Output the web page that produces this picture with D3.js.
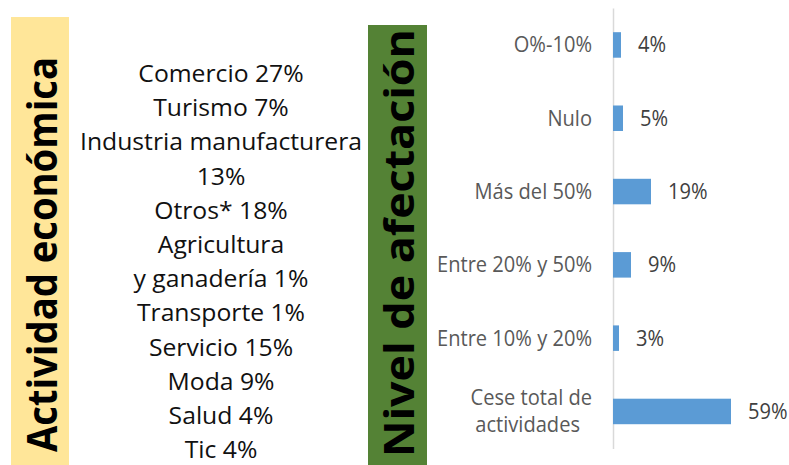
<!DOCTYPE html>
<html>
<head>
<meta charset="utf-8">
<script src="https://cdn.jsdelivr.net/npm/d3@7/dist/d3.min.js"></script>
<style>
  body { margin: 0; background: #fff; }
  svg { display: block; }
</style>
</head>
<body>
<div id="chart"></div>
<script>
// datos del grafico
let actividades = ["Comercio", "Turismo", "Industria manufacturera\n", "Otros*", "Agricultura\ny ganadería",
  "Transporte", "Servicio", "Moda", "Salud", "Tic"];
let actividadPct = [27, 7, 13, 18, 1, 1, 15, 9, 4, 4];

let niveles = ["O%-10%", "Nulo", "Más del 50%", "Entre 20% y 50%", "Entre 10% y 20%", "Cese total de\nactividades"];
let nivelPct = [4, 5, 19, 9, 3, 59];

let svgWidth = 789, svgHeight = 465;
let font = "'Open Sans', 'Noto Sans', sans-serif";

let svg = d3.select("#chart")
  .append("svg")
  .attr("width", svgWidth)
  .attr("height", svgHeight);

// squeeze text horizontally so the widest one gets the target width (calibri is narrower)
function squeeze(sel, widest, target) {
  let factor = target / widest;
  sel.each(function () {
    let w = this.getComputedTextLength();
    d3.select(this).attr("textLength", w * factor).attr("lengthAdjust", "spacingAndGlyphs");
  });
}

// ===== bandas con titulos verticales =====
svg.append("rect").attr("x", 11).attr("y", 17).attr("width", 58).attr("height", 448).attr("fill", "#ffe699");
svg.append("rect").attr("x", 368).attr("y", 25).attr("width", 59).attr("height", 440).attr("fill", "#548235");

svg.append("text")
  .attr("transform", "translate(57,452) rotate(-90)")
  .attr("font-family", font).attr("font-weight", "bold").attr("font-size", 41)
  .attr("fill", "#000")
  .attr("textLength", 395).attr("lengthAdjust", "spacingAndGlyphs")
  .text("Actividad económica");

svg.append("text")
  .attr("transform", "translate(414,457) rotate(-90)")
  .attr("font-family", font).attr("font-weight", "bold").attr("font-size", 41)
  .attr("fill", "#000")
  .attr("textLength", 428).attr("lengthAdjust", "spacingAndGlyphs")
  .text("Nivel de afectación");

// ===== lista de actividades =====
let lines = [];
actividades.forEach(function (a, i) {
  (a + " " + actividadPct[i] + "%").split("\n").forEach(function (l) { lines.push(l.trim()); });
});

let list = svg.append("g").selectAll("text")
  .data(lines)
  .enter()
  .append("text")
  .attr("x", 221)
  .attr("y", function (d, i) { return 82 + i * 34.2; })
  .attr("text-anchor", "middle")
  .attr("font-family", font).attr("font-size", 24)
  .attr("fill", "#111")
  .text(function (d) { return d; });

let widest = d3.max(list.nodes(), function (n) { return n.getComputedTextLength(); });
squeeze(list, widest, 282);

// ===== barras nivel de afectacion =====
let x = d3.scaleLinear().domain([0, 59]).range([613, 731]);
let y = d3.scaleBand()
  .domain(niveles)
  .range([8, 448.4])
  .paddingInner(0.652)
  .paddingOuter(0.33);

let axis = svg.append("g")
  .attr("transform", "translate(613,0)")
  .call(d3.axisLeft(y).tickSize(0).tickPadding(21));
axis.select(".domain").attr("stroke", "#d9d9d9").attr("stroke-width", 1.5);

let ticks = axis.selectAll(".tick text")
  .attr("font-family", font).attr("font-size", 21)
  .attr("fill", "#595959")
  .attr("dy", "0.35em");

// wrap the two-line label
ticks.each(function (d) {
  let parts = d.split("\n");
  if (parts.length > 1) {
    let t = d3.select(this).text("").attr("dy", null);
    parts.forEach(function (p, i) {
      t.append("tspan")
        .attr("x", -21 - i * 12)
        .attr("y", (i - (parts.length - 1) / 2) * 27)
        .attr("dy", "0.35em")
        .text(p);
    });
  }
});

let tickWidest = 0;
ticks.each(function (d) { if (d === "Entre 10% y 20%") tickWidest = this.getComputedTextLength(); });
let tf = 155 / tickWidest;
ticks.each(function (d) {
  let sel = d3.select(this);
  if (sel.selectAll("tspan").size()) {
    sel.selectAll("tspan").each(function () {
      d3.select(this).attr("textLength", this.getComputedTextLength() * tf).attr("lengthAdjust", "spacingAndGlyphs");
    });
  } else {
    sel.attr("textLength", this.getComputedTextLength() * tf).attr("lengthAdjust", "spacingAndGlyphs");
  }
});

svg.append("g").selectAll("rect")
  .data(niveles)
  .enter()
  .append("rect")
  .attr("x", x(0))
  .attr("y", function (d) { return y(d); })
  .attr("width", function (d, i) { return x(nivelPct[i]) - x(0); })
  .attr("height", y.bandwidth())
  .attr("fill", "#5b9bd5");

let vals = svg.append("g").selectAll("text")
  .data(niveles)
  .enter()
  .append("text")
  .attr("x", function (d, i) { return x(nivelPct[i]) + 17; })
  .attr("y", function (d) { return y(d) + y.bandwidth() / 2; })
  .attr("dy", "0.35em")
  .attr("font-family", font).attr("font-size", 21)
  .attr("fill", "#404040")
  .text(function (d, i) { return nivelPct[i] + "%"; });
vals.each(function () {
  d3.select(this).attr("textLength", this.getComputedTextLength() * tf).attr("lengthAdjust", "spacingAndGlyphs");
});
</script>
</body>
</html>
